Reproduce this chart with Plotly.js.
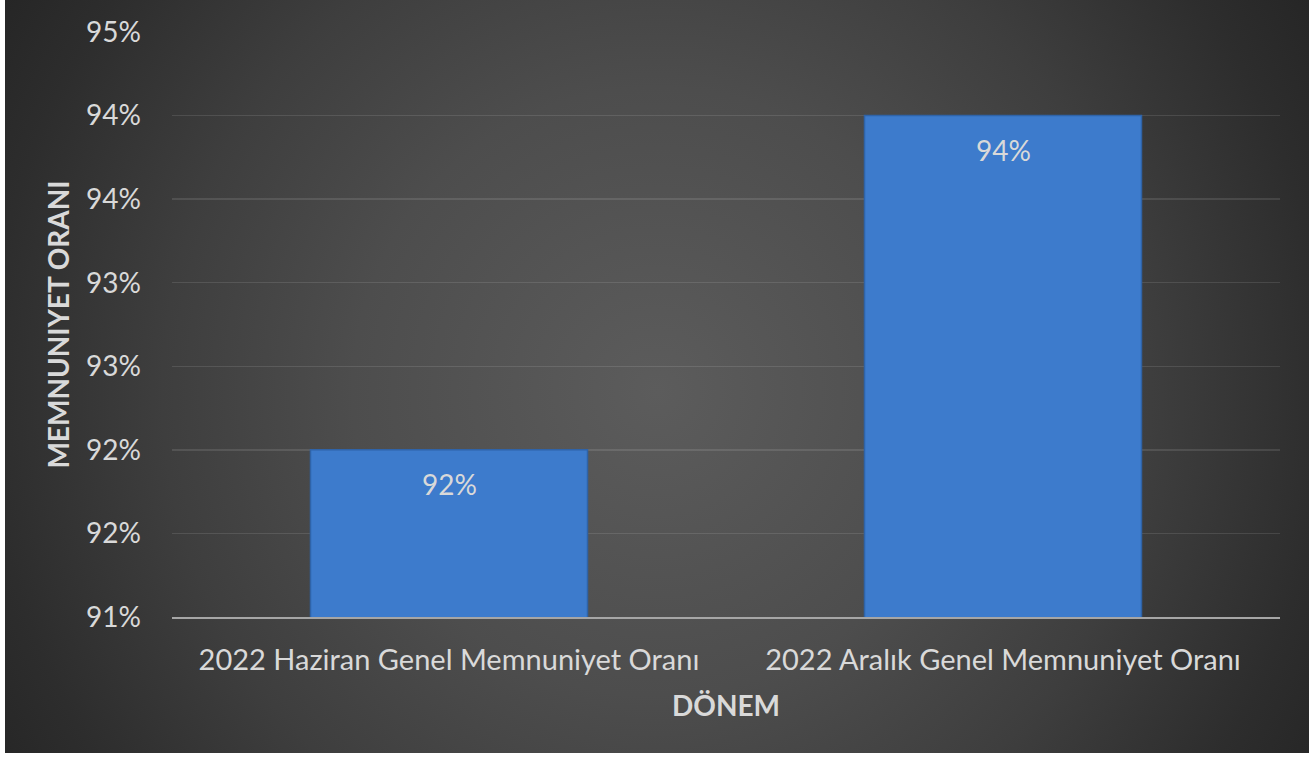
<!DOCTYPE html>
<html>
<head>
<meta charset="utf-8">
<script src="https://cdn.plot.ly/plotly-3.0.1.min.js"></script>
<style>
  html, body { margin: 0; padding: 0; background: #ffffff; width: 1316px; height: 760px; overflow: hidden; }
  #bg {
    position: absolute; left: 5px; top: 0px; width: 1304px; height: 753px;
    background: radial-gradient(circle farthest-corner at 50% 52%, #5c5c5c 0%, #4d4d4d 40%, #3e3e3e 65%, #2d2d2d 88%, #262626 100%);
  }
  #chart { position: absolute; left: 0; top: 0; width: 1316px; height: 760px; }
</style>
</head>
<body>
<div id="bg"></div>
<div id="chart"></div>
<script>
const categories = ['2022 Haziran Genel Memnuniyet Oranı', '2022 Aralık Genel Memnuniyet Oranı'];
const values = [0.92, 0.94];
const valueLabels = ['92%', '94%'];
const tickValues = [0.91, 0.915, 0.92, 0.925, 0.93, 0.935, 0.94, 0.945];
const tickLabels = ['91%', '92%', '92%', '93%', '93%', '94%', '94%', '95%'];
const yTitle = 'MEMNUNIYET ORANI';
const xTitle = 'DÖNEM';

const FONT = "Lato, 'Open Sans', sans-serif";
const TXT = '#d9d9d9';

const trace = {
  type: 'bar',
  x: categories,
  y: values,
  width: 0.5,
  marker: { color: '#3d7bcc', line: { color: '#2f63a8', width: 1.5 } },
  hoverinfo: 'skip'
};

const annotations = categories.map((c, i) => ({
  x: c, y: values[i], xref: 'x', yref: 'y',
  text: valueLabels[i], showarrow: false,
  yanchor: 'top', yshift: -15,
  font: { family: FONT, size: 28, color: TXT }
}));

const layout = {
  width: 1316, height: 760,
  paper_bgcolor: 'rgba(0,0,0,0)',
  plot_bgcolor: 'rgba(0,0,0,0)',
  margin: { l: 172, r: 36, t: 32, b: 143 },
  showlegend: false,
  bargap: 0.5,
  font: { family: FONT, color: TXT },
  xaxis: {
    type: 'category',
    showgrid: false,
    showline: true, linecolor: '#a6a6a6', linewidth: 2,
    ticks: '', ticklabelstandoff: 16,
    tickfont: { family: FONT, size: 29, color: TXT },
    title: { text: xTitle, standoff: 22, font: { family: FONT, size: 28, color: TXT, weight: 'bold' } }
  },
  yaxis: {
    range: [0.91, 0.945],
    tickmode: 'array', tickvals: tickValues, ticktext: tickLabels,
    showgrid: true, gridcolor: 'rgba(255,255,255,0.11)', gridwidth: 1.5,
    zeroline: false, showline: false,
    ticks: '', ticklabelstandoff: 30,
    tickfont: { family: FONT, size: 28, color: TXT },
    title: { text: yTitle, standoff: 8, font: { family: FONT, size: 28, color: TXT, weight: 'bold' } }
  },
  annotations: annotations
};

Plotly.newPlot('chart', [trace], layout, { staticPlot: true, displayModeBar: false });
</script>
</body>
</html>
